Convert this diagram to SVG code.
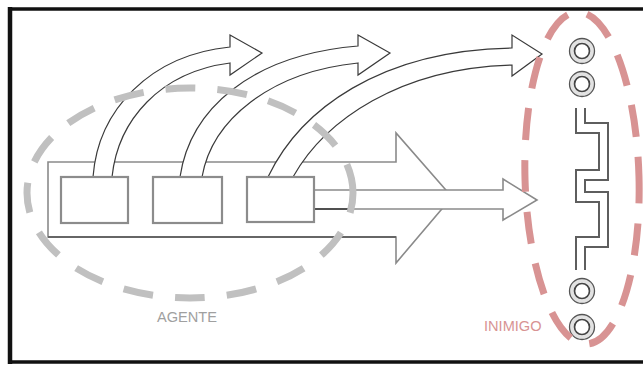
<svg xmlns="http://www.w3.org/2000/svg" width="643" height="367" viewBox="0 0 643 367">
  <style>
    .frame { stroke: #111; fill: none; }
    .shaft { fill: #fff; stroke: #8a8a8a; stroke-width: 1.6; stroke-linejoin: miter; }
    .box { fill: #fff; stroke: #8c8c8c; stroke-width: 2.2; }
    .curve { fill: #fff; stroke: #3a3a3a; stroke-width: 1.2; stroke-linejoin: miter; }
    .wire { fill: none; stroke: #5e5e5e; stroke-width: 2; }
    .ring-band { fill: none; stroke: #e2e2e2; stroke-width: 3.5; }
    .ring-edge { fill: none; stroke: #555; stroke-width: 1.3; }
    .ring-core { fill: #fff; stroke: #444; stroke-width: 1.7; }
    .group-agent { fill: none; stroke: #c0c0c0; stroke-width: 7; stroke-dasharray: 30 22; }
    .group-enemy { fill: none; stroke: #d89393; stroke-width: 7; stroke-dasharray: 32 20; }
    .label { font-family: "Liberation Sans", Arial, Helvetica, sans-serif; font-size: 14.6px; }
  </style>
  <rect width="643" height="367" fill="#fff"/>

  <!-- outer frame (right side runs past the canvas) -->
  <g id="frame">
    <line class="frame" x1="8" y1="9" x2="650" y2="9" stroke-width="3.5"/>
    <line class="frame" x1="10" y1="7" x2="10" y2="364" stroke-width="4.5"/>
    <line class="frame" x1="8" y1="362" x2="650" y2="362" stroke-width="3.5"/>
  </g>

  <!-- connectors: big flow arrow, output arrow, and the three curved action arrows -->
  <g id="connectors">
    <path id="flow-arrow" class="shaft" d="M48,162 L396,162 L396,133 L452,197 L396,263 L396,237 L48,237 Z"/>
    <line x1="48" y1="237" x2="396" y2="237" stroke="#666" stroke-width="2.2"/>
    <path id="output-arrow" class="shaft" d="M314,190 L503,190 L503,179 L537,200 L503,220 L503,209 L314,209 Z"/>
    <line x1="314" y1="209" x2="348" y2="209" stroke="#333" stroke-width="1.4"/>
    <path id="action-1" class="curve" d="M93,177 C98,110 150,55 230,47 L230,35 L262,53 L230,75 L230,63 C160,72 118,120 112,177 Z"/>
    <path id="action-2" class="curve" d="M180,177 C190,110 250,55 358,46 L358,35 L390,53 L358,75 L358,63 C270,72 212,120 202,177 Z"/>
    <path id="action-3" class="curve" d="M268,177 C300,110 380,50 512,48 L512,35 L542,54 L512,76 L512,65 C400,68 325,120 293,177 Z"/>
  </g>

  <!-- agent internal stages -->
  <g id="agent-stage-1"><rect class="box" x="61" y="177" width="67" height="46"/></g>
  <g id="agent-stage-2"><rect class="box" x="153" y="177" width="69" height="46"/></g>
  <g id="agent-stage-3"><rect class="box" x="247" y="177" width="67" height="45"/></g>

  <!-- enemy: terminals and zigzag conductor -->
  <g id="enemy">
    <path class="wire" d="M576,108 L576,133 L599,133 L599,170 L576,170 L576,202 L599,202 L599,237 L576,237 L576,270"/>
    <path class="wire" d="M585,108 L585,123 L608,123 L608,180 L585,180 L585,192 L608,192 L608,247 L585,247 L585,270"/>
    <g id="terminal-1">
      <circle class="ring-band" cx="582" cy="51" r="10.2"/>
      <circle class="ring-edge" cx="582" cy="51" r="12.5"/>
      <circle class="ring-core" cx="582" cy="51" r="7.5"/>
    </g>
    <g id="terminal-2">
      <circle class="ring-band" cx="582" cy="84" r="10.2"/>
      <circle class="ring-edge" cx="582" cy="84" r="12.5"/>
      <circle class="ring-core" cx="582" cy="84" r="7.5"/>
    </g>
    <g id="terminal-3">
      <circle class="ring-band" cx="582" cy="291" r="10.2"/>
      <circle class="ring-edge" cx="582" cy="291" r="12.5"/>
      <circle class="ring-core" cx="582" cy="291" r="7.5"/>
    </g>
    <g id="terminal-4">
      <circle class="ring-band" cx="582" cy="327" r="10.2"/>
      <circle class="ring-edge" cx="582" cy="327" r="12.5"/>
      <circle class="ring-core" cx="582" cy="327" r="7.5"/>
    </g>
  </g>

  <!-- dashed group outlines with labels -->
  <g id="agent-group">
    <ellipse class="group-agent" cx="190" cy="193" rx="163" ry="105" stroke-dashoffset="10"/>
    <text class="label" x="157" y="322" fill="#a0a0a0">AGENTE</text>
  </g>
  <g id="enemy-group">
    <ellipse class="group-enemy" cx="582" cy="178" rx="57" ry="166" transform="rotate(-1.6 582 178)" stroke-dashoffset="5"/>
    <text class="label" x="484" y="331" fill="#d89393">INIMIGO</text>
  </g>
</svg>
